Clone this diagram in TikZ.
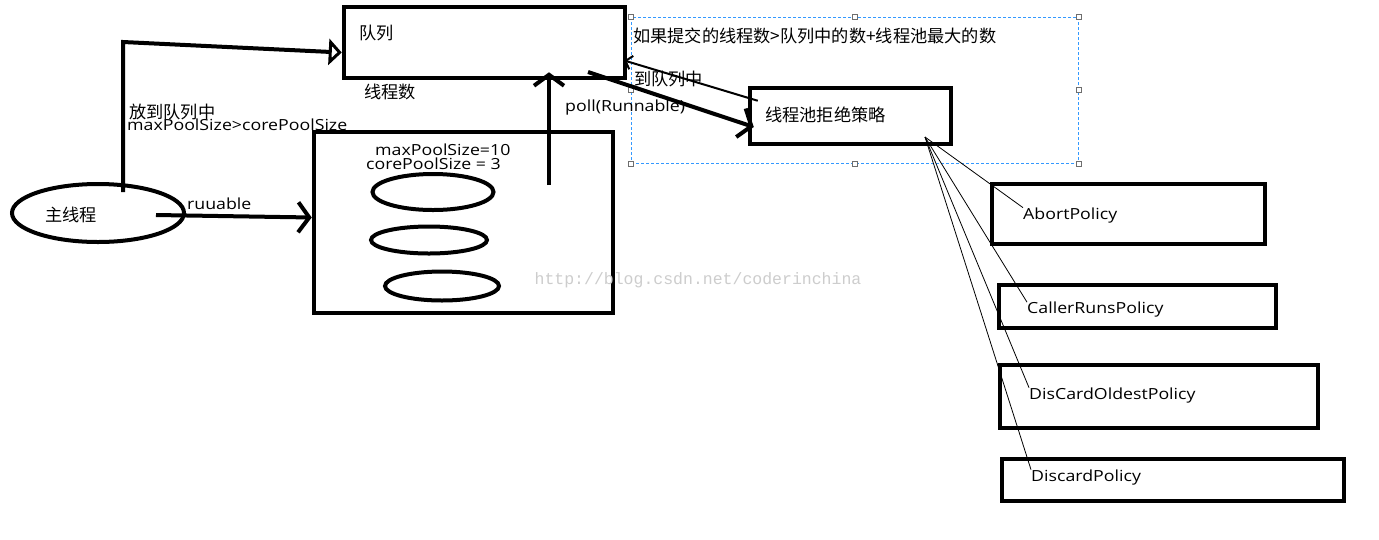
\documentclass[tikz,border=0pt]{standalone}
\usepackage{fontspec}
\setmainfont{Open Sans}[FakeStretch=1.16]
\newfontfamily\cjkfont{Noto Sans CJK SC}
\newfontfamily\markfont{Liberation Mono}
\usetikzlibrary{
  shapes.geometric,
  arrows.meta,
  positioning,
  calc
}
\definecolor{inkcolor}{RGB}{0, 0, 0}
\definecolor{selcolor}{RGB}{51, 153, 255}
\definecolor{handlecolor}{RGB}{110, 110, 110}
\definecolor{markcolor}{RGB}{205, 205, 205}
\tikzset{
plaintext/.style={
  anchor=west,
  inner sep=0pt,
  font=\fontsize{15.3}{15.3}\selectfont,
  text=inkcolor
},
cjktext/.style={
  plaintext,
  font=\cjkfont\fontsize{17.2}{17.2}\selectfont
},
box/.style={
  draw=inkcolor,
  line width=4.5pt,
  inner sep=0pt
},
oval/.style={
  ellipse,
  draw=inkcolor,
  line width=4pt,
  inner sep=0pt
},
selbox/.style={
  draw=selcolor,
  line width=0.8pt,
  dash pattern=on 3pt off 2pt,
  inner sep=0pt
},
handle/.style={
  draw=handlecolor,
  fill=white,
  line width=0.7pt,
  minimum size=5pt,
  inner sep=0pt
},
thickarrow/.style={
  -{Straight Barb[length=11pt,width=30pt]},
  line width=4pt,
  draw=inkcolor
},
openarrow/.style={
  -{Triangle[open,length=13pt,width=26pt,line width=3pt]},
  line width=4pt,
  draw=inkcolor
},
thinarrow/.style={
  -{Straight Barb[length=6pt,width=14pt]},
  line width=2pt,
  draw=inkcolor
},
fanline/.style={
  line width=0.8pt,
  draw=inkcolor
}
}
\begin{document}
\begin{tikzpicture}[x=1pt, y=-1pt]
  \useasboundingbox[fill=white] (0,0) rectangle (1379,539);
  % Selection frame
  \node[selbox, minimum width=447pt, minimum height=146pt] (sel) at (854.5,90) {};
  % Boxes
  \node[box, minimum width=281pt, minimum height=71pt] (queue) at (484.5,42.5) {};
  \node[box, minimum width=299pt, minimum height=181pt] (pool) at (463.5,222.5) {};
  \node[box, minimum width=201pt, minimum height=56pt] (reject) at (850.5,116) {};
  \node[box, minimum width=273pt, minimum height=60pt] (abort) at (1128.5,214) {};
  \node[box, minimum width=277pt, minimum height=43pt] (callerruns) at (1137.5,306.5) {};
  \node[box, minimum width=318pt, minimum height=63pt] (discardoldest) at (1159,396.5) {};
  \node[box, minimum width=342pt, minimum height=42pt] (discard) at (1173,480) {};
  % Ellipses
  \node[oval, minimum width=172pt, minimum height=58pt] (main) at (98,213) {};
  \node[oval, minimum width=121pt, minimum height=36pt] (worker1) at (433,192) {};
  \node[oval, minimum width=116pt, minimum height=27pt] (worker2) at (429,240) {};
  \node[oval, minimum width=114pt, minimum height=29pt] (worker3) at (442,286) {};
  % Handles
  \foreach \a in {north west,north,north east,east,south east,south,south west,west}
    \node[handle] at (sel.\a) {};
  % Labels
  \node[cjktext] (queuetxt) at (359,33.5) {队列};
  \node[cjktext] (countxt) at (364,92) {线程数};
  \node[cjktext] (puttxt) at (129,111.5) {放到队列中};
  \node[plaintext] (condtxt) at (127,124.5) {maxPoolSize>corePoolSize};
  \node[cjktext] (maintxt) at (45,214.5) {主线程};
  \node[plaintext] (runtxt) at (187,203.5) {ruuable};
  \node[plaintext] (maxtxt) at (375,150) {maxPoolSize=10};
  \node[plaintext] (coretxt) at (366,164) {corePoolSize = 3};
  \node[plaintext] (polltxt) at (565,107.5) {poll(Runnable)};
  \node[cjktext] (overtxt) at (633,35.5) {如果提交的线程数>队列中的数+线程池最大的数};
  \node[cjktext] (backtxt) at (634,79.5) {到队列中};
  \node[cjktext] (rejecttxt) at (765,115) {线程池拒绝策略};
  \node[plaintext] (abort-txt) at (1023,215.5) {AbortPolicy};
  \node[plaintext] (callerruns-txt) at (1027,310) {CallerRunsPolicy};
  \node[plaintext] (discardoldest-txt) at (1029,395.5) {DisCardOldestPolicy};
  \node[plaintext] (discard-txt) at (1031,477.5) {DiscardPolicy};
  \node[font=\markfont\fontsize{16.5}{16.5}\selectfont, text=markcolor, inner sep=0pt] (mark) at (698,280) {http://blog.csdn.net/coderinchina};
  % Connectors
  \coordinate (mainup) at (123,192);
  \coordinate (bend) at (123,42);
  \draw[openarrow] (mainup) -- (bend) -- ([yshift=-10pt]queue.west);
  \coordinate (mainright) at (156,215);
  \draw[thickarrow] (mainright) -- ([yshift=5pt]pool.west);
  \coordinate (pollstart) at (549,185);
  \draw[thickarrow] (pollstart) -- ($(pollstart |- queue.south)+(0,-8)$);
  \coordinate (queueout) at (588,72);
  \draw[thickarrow] (queueout) -- ([xshift=6pt,yshift=-11pt]reject.west);
  \draw[thinarrow] ([xshift=10pt,yshift=-15pt]reject.north west) -- ([xshift=-3pt,yshift=-18pt]queue.east);
  \coordinate (fan) at (925,137);
  \foreach \p in {abort,callerruns,discardoldest,discard}
    \draw[fanline] (fan) -- (\p-txt.north west);
\end{tikzpicture}
\end{document}
